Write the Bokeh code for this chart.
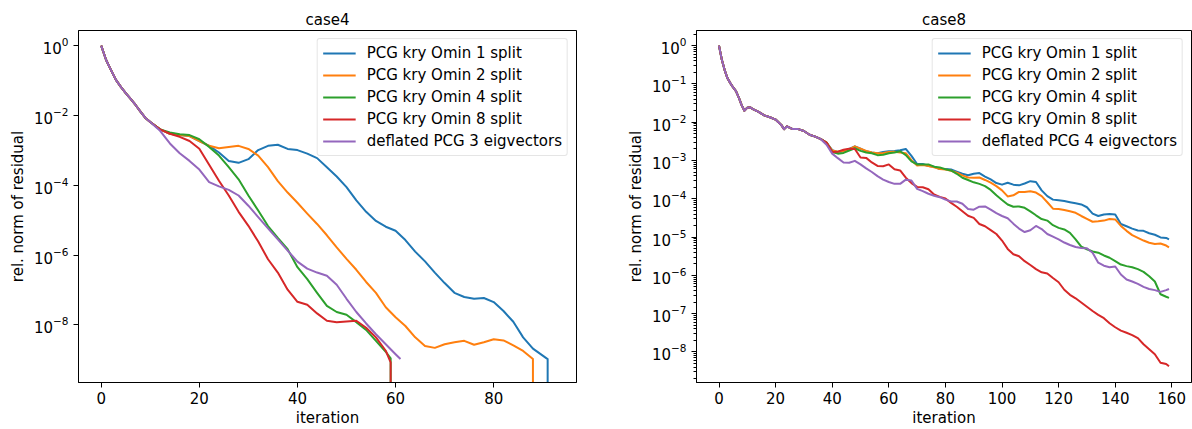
from bokeh.plotting import figure
from bokeh.layouts import row
from bokeh.models import FixedTicker, SingleIntervalTicker, Range1d, Legend
from bokeh.embed import file_html
from bokeh.resources import INLINE

FONT = "DejaVu Sans"
COLORS = ["#1f77b4", "#ff7f0e", "#2ca02c", "#d62728", "#9467bd"]

titles = ["case4", "case8"]
x_label = "iteration"
y_label = "rel. norm of residual"
labels_case4 = ["PCG kry Omin 1 split", "PCG kry Omin 2 split", "PCG kry Omin 4 split",
                "PCG kry Omin 8 split", "deflated PCG 3 eigvectors"]
labels_case8 = ["PCG kry Omin 1 split", "PCG kry Omin 2 split", "PCG kry Omin 4 split",
                "PCG kry Omin 8 split", "deflated PCG 4 eigvectors"]

# ---------------- case4 ----------------
it4_head = list(range(0, 11))
head4 = [1.0, 3.9e-1, 2.0e-1, 1.05e-1, 6.6e-2, 4.4e-2, 3.0e-2, 2.0e-2, 1.29e-2, 8.5e-3, 6.5e-3]

c4_blue_it = it4_head + list(range(12, 91, 2)) + [91, 91]
c4_blue = head4 + [4.0e-3, 3.0e-3, 2.75e-3, 2.57e-3, 1.86e-3, 1.35e-3, 8.7e-4, 5.0e-4, 4.4e-4, 5.6e-4,
                   1.02e-3, 1.35e-3, 1.45e-3, 1.10e-3, 1.02e-3, 8.1e-4, 6.0e-4, 3.3e-4, 1.78e-4, 8.9e-5,
                   3.7e-5, 1.74e-5, 9.5e-6, 6.5e-6, 5.0e-6, 2.7e-6, 1.26e-6, 6.6e-7, 3.16e-7, 1.58e-7,
                   8.3e-8, 6.3e-8, 5.6e-8, 5.9e-8, 4.5e-8, 2.5e-8, 1.23e-8, 4.4e-9, 2.1e-9, 1.32e-9,
                   1.05e-9, 1e-13]

c4_orange_it = it4_head + list(range(12, 89, 2)) + [88]
c4_orange = head4 + [4.0e-3, 3.0e-3, 2.75e-3, 2.57e-3, 1.86e-3, 1.35e-3, 1.15e-3, 1.26e-3, 1.35e-3, 1.10e-3,
                     7.1e-4, 3.3e-4, 1.32e-4, 6.2e-5, 3.16e-5, 1.55e-5, 7.8e-6, 3.7e-6, 1.66e-6, 7.8e-7,
                     3.8e-7, 1.70e-7, 8.3e-8, 3.2e-8, 1.66e-8, 9.3e-9, 4.4e-9, 2.5e-9, 2.2e-9, 2.8e-9,
                     3.2e-9, 3.5e-9, 2.7e-9, 3.2e-9, 3.9e-9, 3.6e-9, 2.6e-9, 1.8e-9, 1.05e-9, 1e-13]

c4_green_it = it4_head + list(range(12, 59, 2)) + [59, 59]
c4_green = head4 + [4.0e-3, 3.24e-3, 2.88e-3, 2.75e-3, 2.09e-3, 1.26e-3, 7.1e-4, 3.3e-4, 1.48e-4, 5.1e-5,
                    1.9e-5, 6.8e-6, 3.1e-6, 1.48e-6, 4.5e-7, 2.04e-7, 8.3e-8, 3.5e-8, 2.34e-8, 1.95e-8,
                    1.2e-8, 7.2e-9, 3.5e-9, 1.7e-9, 1.1e-9, 1e-13]

c4_red_it = it4_head + list(range(12, 59, 2)) + [59, 59]
c4_red = head4 + [4.0e-3, 3.0e-3, 2.45e-3, 1.86e-3, 1.12e-3, 3.9e-4, 1.35e-4, 5.1e-5, 1.74e-5, 6.9e-6,
                  2.45e-6, 7.6e-7, 3.16e-7, 1.02e-7, 4.6e-8, 3.8e-8, 2.14e-8, 1.32e-8, 1.2e-8, 1.26e-8,
                  1.32e-8, 8.3e-9, 4.4e-9, 1.82e-9, 8.5e-10, 1e-13]

c4_purple_it = it4_head + list(range(12, 61, 2)) + [61]
c4_purple = head4 + [3.63e-3, 1.58e-3, 8.3e-4, 5.0e-4, 2.82e-4, 1.23e-4, 9.3e-5, 7.4e-5, 5.1e-5, 2.6e-5,
                     1.23e-5, 5.8e-6, 2.82e-6, 1.35e-6, 6.5e-7, 4.1e-7, 3.16e-7, 2.57e-7, 1.41e-7, 5.6e-8,
                     2.34e-8, 1.1e-8, 5.4e-9, 2.8e-9, 1.45e-9, 1.05e-9]

# ---------------- case8 ----------------
it8 = list(range(0, 13)) + list(range(14, 23, 2)) + [23] + list(range(24, 159, 2)) + [159]
head8 = [1.0, 4.3e-1, 2.3e-1, 1.4e-1, 1.05e-1, 8.1e-2, 6.5e-2, 4.4e-2, 2.8e-2, 2.0e-2, 2.4e-2, 2.45e-2, 2.2e-2,
         1.86e-2, 1.51e-2, 1.35e-2, 1.17e-2, 8.5e-3, 6.6e-3, 7.8e-3, 6.6e-3, 6.6e-3, 5.9e-3, 4.7e-3, 4.2e-3,
         3.6e-3]

c8_blue = head8 + [2.95e-3, 1.86e-3, 1.66e-3, 1.74e-3, 2.0e-3, 2.34e-3, 2.04e-3, 1.74e-3, 1.62e-3, 1.55e-3,
                   1.66e-3, 1.74e-3, 1.78e-3, 1.86e-3, 2.0e-3, 1.32e-3, 8.1e-4, 8.1e-4, 7.2e-4, 6.9e-4,
                   6.0e-4, 6.0e-4, 5.8e-4, 5.1e-4, 4.5e-4, 4.1e-4, 4.5e-4, 4.7e-4, 3.8e-4, 3.2e-4,
                   2.57e-4, 2.34e-4, 2.63e-4, 2.34e-4, 2.24e-4, 2.51e-4, 2.88e-4, 2.75e-4, 1.66e-4, 1.17e-4,
                   9.5e-5, 9.1e-5, 8.7e-5, 8.1e-5, 7.6e-5, 7.1e-5, 6.0e-5, 4.1e-5, 3.55e-5, 3.9e-5,
                   4.0e-5, 3.9e-5, 2.19e-5, 1.91e-5, 1.66e-5, 1.48e-5, 1.45e-5, 1.26e-5, 1.15e-5, 9.8e-6,
                   9.5e-6, 8.7e-6]

c8_orange = head8 + [2.95e-3, 1.82e-3, 1.7e-3, 1.74e-3, 1.95e-3, 2.34e-3, 2.04e-3, 1.78e-3, 1.62e-3, 1.55e-3,
                     1.58e-3, 1.66e-3, 1.7e-3, 1.62e-3, 1.55e-3, 1.02e-3, 7.4e-4, 7.6e-4, 7.2e-4, 6.6e-4,
                     6.0e-4, 5.8e-4, 5.4e-4, 4.8e-4, 4.1e-4, 3.6e-4, 3.55e-4, 3.6e-4, 3.1e-4, 2.63e-4,
                     2.14e-4, 1.66e-4, 1.15e-4, 1.23e-4, 1.51e-4, 1.51e-4, 1.58e-4, 1.45e-4, 1.17e-4, 8.1e-5,
                     5.5e-5, 5.4e-5, 5.1e-5, 4.7e-5, 4.3e-5, 3.55e-5, 3.0e-5, 2.51e-5, 2.57e-5, 2.69e-5,
                     2.95e-5, 2.88e-5, 1.95e-5, 1.45e-5, 1.12e-5, 9.5e-6, 8.1e-6, 7.1e-6, 6.6e-6, 6.8e-6,
                     6.0e-6, 5.4e-6]

c8_green = head8 + [2.95e-3, 1.66e-3, 1.51e-3, 1.58e-3, 1.82e-3, 2.09e-3, 1.78e-3, 1.62e-3, 1.55e-3, 1.38e-3,
                    1.41e-3, 1.55e-3, 1.62e-3, 1.74e-3, 1.38e-3, 9.5e-4, 7.9e-4, 7.9e-4, 7.9e-4, 6.9e-4,
                    6.6e-4, 5.9e-4, 5.5e-4, 4.5e-4, 3.55e-4, 3.1e-4, 2.69e-4, 2.45e-4, 2.14e-4, 1.7e-4,
                    1.23e-4, 9.3e-5, 7.1e-5, 6.2e-5, 6.3e-5, 5.8e-5, 4.7e-5, 3.7e-5, 2.95e-5, 2.69e-5,
                    2.04e-5, 1.74e-5, 1.58e-5, 1.29e-5, 8.7e-6, 5.6e-6, 4.8e-6, 4.2e-6, 3.9e-6, 3.3e-6,
                    2.88e-6, 2.34e-6, 1.91e-6, 1.74e-6, 1.62e-6, 1.45e-6, 1.23e-6, 9.5e-7, 6.9e-7, 3.2e-7,
                    2.75e-7, 2.57e-7]

c8_red = head8 + [2.95e-3, 1.66e-3, 1.7e-3, 1.91e-3, 2.04e-3, 2.0e-3, 1.2e-3, 1.17e-3, 8.9e-4, 7.2e-4,
                  7.1e-4, 7.9e-4, 5.9e-4, 5.5e-4, 3.55e-4, 2.57e-4, 2.04e-4, 2.0e-4, 1.78e-4, 1.29e-4,
                  1.12e-4, 1.02e-4, 7.8e-5, 6.2e-5, 4.7e-5, 3.6e-5, 3.16e-5, 2.19e-5, 1.91e-5, 1.51e-5,
                  1.2e-5, 8.1e-6, 4.9e-6, 3.55e-6, 3.16e-6, 2.34e-6, 1.86e-6, 1.45e-6, 1.2e-6, 1.12e-6,
                  8.5e-7, 6.6e-7, 4.2e-7, 3.1e-7, 2.51e-7, 1.95e-7, 1.51e-7, 1.17e-7, 9.3e-8, 7.6e-8,
                  5.6e-8, 4.4e-8, 3.6e-8, 3.16e-8, 2.75e-8, 2.29e-8, 1.58e-8, 1.17e-8, 8.7e-9, 5.2e-9,
                  4.8e-9, 4.2e-9]

c8_purple = head8 + [2.57e-3, 1.51e-3, 1.15e-3, 8.9e-4, 8.7e-4, 9.8e-4, 7.9e-4, 6.2e-4, 5.0e-4, 3.9e-4,
                     3.16e-4, 2.75e-4, 2.45e-4, 2.45e-4, 3.16e-4, 3.0e-4, 1.82e-4, 1.58e-4, 1.35e-4, 1.2e-4,
                     1.1e-4, 9.5e-5, 8.5e-5, 8.5e-5, 7.4e-5, 5.4e-5, 5.2e-5, 6.2e-5, 6.3e-5, 5.2e-5,
                     4.2e-5, 3.55e-5, 3.1e-5, 2.24e-5, 1.66e-5, 1.35e-5, 1.51e-5, 1.95e-5, 1.62e-5, 1.2e-5,
                     1.02e-5, 8.7e-6, 7.2e-6, 6.2e-6, 5.5e-6, 5.2e-6, 5.1e-6, 3.9e-6, 2.14e-6, 1.78e-6,
                     1.62e-6, 1.7e-6, 1.05e-6, 7.8e-7, 6.9e-7, 6.0e-7, 5.0e-7, 4.4e-7, 4.1e-7, 3.7e-7,
                     4.1e-7, 4.4e-7]

case4_series = [(c4_blue_it, c4_blue), (c4_orange_it, c4_orange), (c4_green_it, c4_green),
                (c4_red_it, c4_red), (c4_purple_it, c4_purple)]
case8_series = [(it8, c8_blue), (it8, c8_orange), (it8, c8_green), (it8, c8_red), (it8, c8_purple)]


def make_fig(title, series, labels, width, x_range, y_range, border_left, border_right,
             y_ticks, y_minor):
    p = figure(width=width, height=429, y_axis_type="log",
               x_range=Range1d(*x_range), y_range=Range1d(*y_range),
               output_backend="svg", toolbar_location=None,
               min_border_left=border_left, min_border_right=border_right,
               min_border_top=30, min_border_bottom=43)
    p.background_fill_color = "white"
    p.border_fill_color = "white"
    p.outline_line_color = "black"
    p.outline_line_width = 1
    p.xgrid.grid_line_color = None
    p.ygrid.grid_line_color = None

    p.title.text = title
    p.title.align = "center"
    p.title.text_font = FONT
    p.title.text_font_size = "15px"
    p.title.text_font_style = "normal"
    p.title.text_color = "black"
    p.title.standoff = 4

    for (xs, ys), lab, col in zip(series, labels, COLORS):
        p.line(xs, ys, line_color=col, line_width=2, line_join="round", legend_label=lab)

    p.xaxis.ticker = SingleIntervalTicker(interval=20, num_minor_ticks=0)
    p.yaxis.ticker = FixedTicker(ticks=y_ticks, minor_ticks=y_minor)
    p.xaxis.axis_label = x_label
    p.yaxis.axis_label = y_label
    for ax in (p.xaxis[0], p.yaxis[0]):
        ax.axis_line_color = "black"
        ax.axis_line_width = 1
        ax.major_tick_line_color = "black"
        ax.major_tick_out = 5
        ax.major_tick_in = 0
        ax.minor_tick_line_color = "black"
        ax.minor_tick_out = 3
        ax.minor_tick_in = 0
        ax.major_label_text_font = FONT
        ax.major_label_text_font_size = "15px"
        ax.major_label_text_color = "black"
        ax.axis_label_text_font = FONT
        ax.axis_label_text_font_size = "15px"
        ax.axis_label_text_font_style = "normal"
        ax.axis_label_text_color = "black"
    p.xaxis.minor_tick_line_color = None
    p.xaxis.major_label_standoff = 4
    p.xaxis.axis_label_standoff = 2
    p.yaxis.major_label_standoff = 5
    p.yaxis.axis_label_standoff = 4
    if not y_minor:
        p.yaxis.minor_tick_line_color = None

    lg = p.legend[0]
    lg.location = "top_right"
    lg.margin = 8
    lg.padding = 5
    lg.spacing = 4
    lg.glyph_width = 33
    lg.glyph_height = 18
    lg.label_height = 18
    lg.label_standoff = 11
    lg.label_text_font = FONT
    lg.label_text_font_size = "15px"
    lg.label_text_color = "black"
    lg.border_line_color = "#cccccc"
    lg.border_line_width = 1
    lg.background_fill_color = "white"
    lg.background_fill_alpha = 0.8
    if "border_radius" in Legend.properties():
        lg.border_radius = 3
    return p


left_y_ticks = [1e0, 1e-2, 1e-4, 1e-6, 1e-8]
right_y_ticks = [1e0, 1e-1, 1e-2, 1e-3, 1e-4, 1e-5, 1e-6, 1e-7, 1e-8]
right_y_minor = [k * 10.0 ** e for e in range(-9, 1) for k in range(2, 10)]

p1 = make_fig(titles[0], case4_series, labels_case4, 620, (-4.63, 96.88),
              (10 ** -9.65, 10 ** 0.435), 78, 44, left_y_ticks, [])
p2 = make_fig(titles[1], case8_series, labels_case8, 572, (-7.95, 166.95),
              (10 ** -8.80, 10 ** 0.396), 76, 1, right_y_ticks, right_y_minor)

layout = row(p1, p2)
open("out.html", "w").write(file_html(layout, INLINE))
